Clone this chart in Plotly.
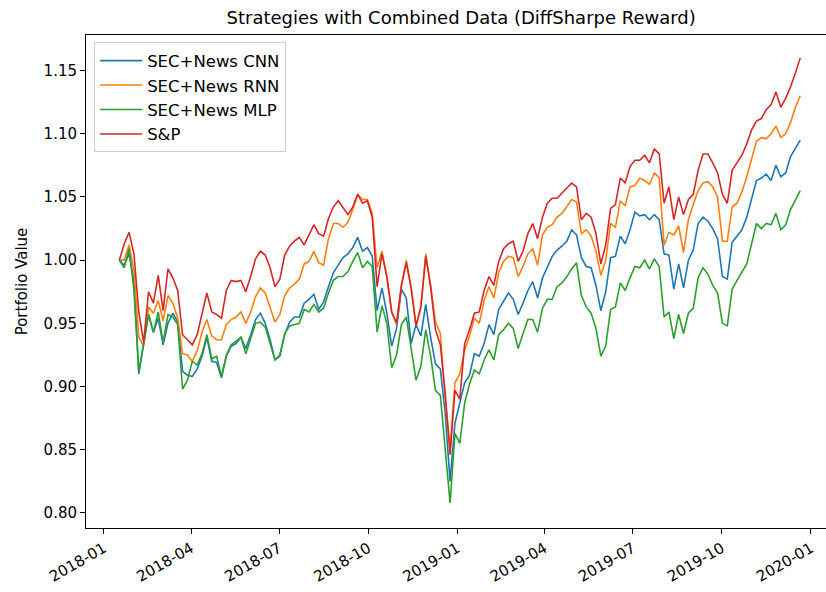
import pandas as pd
import plotly.graph_objects as go

# ---------------- data ----------------
start_date = "2018-01-17"
end_date = "2019-12-21"
n_points = 141
dates = pd.date_range(start_date, end_date, periods=n_points)

series_names = ["SEC+News CNN", "SEC+News RNN", "SEC+News MLP", "S&P"]

cnn = [
    1.000, 0.996, 1.005, 0.984, 0.910, 0.934, 0.957, 0.943, 0.954, 0.933,
    0.950, 0.958, 0.951, 0.912, 0.909, 0.908, 0.914, 0.924, 0.939, 0.920,
    0.919, 0.907, 0.924, 0.932, 0.934, 0.939, 0.930, 0.941, 0.953, 0.958,
    0.950, 0.937, 0.921, 0.925, 0.941, 0.951, 0.955, 0.955, 0.966, 0.969,
    0.973, 0.961, 0.967, 0.979, 0.990, 0.996, 1.002, 1.005, 1.010, 1.018,
    1.007, 1.010, 1.003, 0.960, 0.978, 0.958, 0.932, 0.946, 0.977, 0.970,
    0.934, 0.949, 0.940, 0.965, 0.939, 0.918, 0.914, 0.879, 0.825, 0.871,
    0.887, 0.903, 0.909, 0.926, 0.924, 0.934, 0.949, 0.941, 0.961, 0.967,
    0.974, 0.969, 0.957, 0.966, 0.976, 0.983, 0.970, 0.986, 0.994, 1.003,
    1.008, 1.011, 1.015, 1.024, 1.020, 1.002, 0.995, 0.994, 0.980, 0.960,
    0.975, 1.002, 1.003, 1.019, 1.013, 1.024, 1.038, 1.035, 1.036, 1.032,
    1.036, 1.032, 1.005, 1.004, 0.977, 0.997, 0.978, 1.000, 1.008, 1.029,
    1.034, 1.031, 1.025, 1.017, 0.987, 0.985, 1.014, 1.019, 1.024, 1.034,
    1.048, 1.063, 1.065, 1.068, 1.063, 1.075, 1.066, 1.069, 1.082, 1.088,
    1.095,
]

rnn = [
    1.000, 1.000, 1.012, 0.992, 0.939, 0.932, 0.963, 0.958, 0.968, 0.952,
    0.972, 0.966, 0.954, 0.926, 0.925, 0.920, 0.928, 0.943, 0.953, 0.940,
    0.937, 0.937, 0.949, 0.953, 0.955, 0.959, 0.950, 0.959, 0.971, 0.978,
    0.974, 0.963, 0.951, 0.957, 0.972, 0.978, 0.981, 0.985, 0.997, 0.999,
    1.007, 0.998, 0.996, 1.017, 1.029, 1.029, 1.026, 1.030, 1.040, 1.052,
    1.048, 1.048, 1.037, 0.994, 1.007, 0.987, 0.959, 0.950, 0.980, 1.000,
    0.978, 0.948, 0.963, 1.005, 0.980, 0.951, 0.942, 0.889, 0.852, 0.903,
    0.910, 0.929, 0.940, 0.954, 0.950, 0.968, 0.979, 0.970, 0.990, 0.999,
    1.003, 1.002, 0.987, 0.995, 1.005, 1.009, 0.996, 1.020, 1.026, 1.028,
    1.034, 1.037, 1.043, 1.048, 1.046, 1.021, 1.024, 1.019, 1.007, 0.988,
    1.000, 1.029, 1.026, 1.047, 1.043, 1.058, 1.059, 1.065, 1.063, 1.060,
    1.069, 1.065, 1.012, 1.022, 1.020, 1.027, 1.006, 1.032, 1.044, 1.055,
    1.061, 1.062, 1.058, 1.050, 1.015, 1.015, 1.042, 1.045, 1.054, 1.066,
    1.080, 1.094, 1.097, 1.096, 1.100, 1.106, 1.097, 1.100, 1.109, 1.121,
    1.130,
]

mlp = [
    1.000, 0.994, 1.009, 0.976, 0.912, 0.935, 0.957, 0.943, 0.959, 0.935,
    0.957, 0.955, 0.949, 0.898, 0.905, 0.920, 0.917, 0.926, 0.941, 0.922,
    0.924, 0.908, 0.925, 0.933, 0.936, 0.939, 0.926, 0.938, 0.950, 0.951,
    0.947, 0.934, 0.921, 0.924, 0.942, 0.948, 0.949, 0.950, 0.961, 0.959,
    0.965, 0.959, 0.962, 0.974, 0.984, 0.987, 0.987, 0.991, 0.999, 1.006,
    0.994, 0.999, 0.995, 0.943, 0.964, 0.950, 0.915, 0.925, 0.949, 0.955,
    0.930, 0.905, 0.916, 0.945, 0.924, 0.897, 0.893, 0.847, 0.808, 0.863,
    0.855, 0.887, 0.902, 0.913, 0.910, 0.921, 0.929, 0.921, 0.941, 0.945,
    0.950, 0.946, 0.930, 0.942, 0.953, 0.953, 0.943, 0.962, 0.969, 0.969,
    0.979, 0.982, 0.987, 0.993, 0.998, 0.972, 0.963, 0.958, 0.946, 0.924,
    0.932, 0.961, 0.963, 0.982, 0.976, 0.986, 0.995, 0.994, 1.000, 0.993,
    1.001, 0.995, 0.955, 0.959, 0.938, 0.957, 0.942, 0.958, 0.962, 0.986,
    0.994, 0.989, 0.980, 0.974, 0.950, 0.948, 0.977, 0.984, 0.991, 0.997,
    1.013, 1.029, 1.025, 1.029, 1.028, 1.037, 1.024, 1.028, 1.040, 1.048,
    1.055,
]

sp = [
    1.000, 1.013, 1.022, 1.005, 0.959, 0.935, 0.975, 0.966, 0.988, 0.960,
    0.993, 0.986, 0.976, 0.941, 0.937, 0.933, 0.941, 0.958, 0.974, 0.959,
    0.957, 0.954, 0.976, 0.984, 0.983, 0.984, 0.975, 0.987, 1.001, 1.007,
    1.004, 0.994, 0.979, 0.985, 1.004, 1.011, 1.015, 1.018, 1.012, 1.020,
    1.028, 1.021, 1.019, 1.033, 1.042, 1.047, 1.041, 1.036, 1.042, 1.052,
    1.045, 1.047, 1.034, 0.979, 1.005, 0.987, 0.959, 0.950, 0.980, 0.998,
    0.978, 0.948, 0.963, 1.003, 0.979, 0.945, 0.933, 0.895, 0.846, 0.897,
    0.890, 0.934, 0.945, 0.958, 0.959, 0.976, 0.987, 0.980, 0.999, 1.009,
    1.013, 1.015, 0.999, 1.007, 1.021, 1.029, 1.017, 1.034, 1.045, 1.049,
    1.049, 1.053, 1.057, 1.061, 1.058, 1.032, 1.037, 1.034, 1.021, 0.997,
    1.012, 1.041, 1.044, 1.065, 1.061, 1.074, 1.079, 1.079, 1.083, 1.077,
    1.088, 1.084, 1.045, 1.058, 1.032, 1.050, 1.036, 1.048, 1.052, 1.071,
    1.084, 1.084, 1.077, 1.069, 1.052, 1.045, 1.071, 1.077, 1.083, 1.092,
    1.103, 1.110, 1.112, 1.119, 1.123, 1.133, 1.121, 1.128, 1.137, 1.148,
    1.160,
]

colors = ["#1f77b4", "#ff7f0e", "#2ca02c", "#d62728"]
y_ticks = [0.80, 0.85, 0.90, 0.95, 1.00, 1.05, 1.10, 1.15]
x_ticks = ["2018-01-01", "2018-04-01", "2018-07-01", "2018-10-01", "2019-01-01",
           "2019-04-01", "2019-07-01", "2019-10-01", "2020-01-01"]
x_tick_text = ["2018-01", "2018-04", "2018-07", "2018-10", "2019-01",
               "2019-04", "2019-07", "2019-10", "2020-01"]

# ---------------- figure ----------------
FONT = "DejaVu Sans"
fig = go.Figure()
for i, (name, vals) in enumerate(zip(series_names, [cnn, rnn, mlp, sp])):
    fig.add_trace(go.Scatter(
        x=dates, y=vals, mode="lines", name=name,
        line=dict(color=colors[i], width=1.6),
    ))

fig.update_layout(
    width=826, height=592,
    margin=dict(l=86, r=0, t=35, b=64, autoexpand=False),
    paper_bgcolor="white", plot_bgcolor="white",
    font=dict(family=FONT, size=15, color="#000000"),
    title=dict(text="Strategies with Combined Data (DiffSharpe Reward)",
               x=0.507, xref="paper", xanchor="center",
               y=0.970, yref="container", yanchor="middle",
               font=dict(family=FONT, size=18, color="#000000")),
    showlegend=True,
    legend=dict(x=0.011, y=0.985, xanchor="left", yanchor="top",
                bgcolor="rgba(255,255,255,0.8)", bordercolor="#d0d0d0",
                borderwidth=1, itemwidth=42,
                font=dict(family=FONT, size=16.5, color="#000000")),
)

fig.update_xaxes(
    automargin=False,
    range=["2017-12-13 14:00", "2020-01-16 14:00"],
    tickvals=x_ticks, ticktext=x_tick_text, tickangle=-30,
    ticks="outside", ticklen=5, tickwidth=1, tickcolor="black",
    showline=True, linecolor="black", linewidth=1, mirror=True,
    showgrid=False, zeroline=False,
    tickfont=dict(family=FONT, size=15, color="#000000"),
)
fig.update_yaxes(
    automargin=False,
    range=[0.7881, 1.1781],
    tickvals=y_ticks, tickformat=".2f",
    ticks="outside", ticklen=5, tickwidth=1, tickcolor="black",
    showline=True, linecolor="black", linewidth=1, mirror=False,
    showgrid=False, zeroline=False,
    title=dict(text="Portfolio Value", standoff=12,
               font=dict(family=FONT, size=15, color="#000000")),
    tickfont=dict(family=FONT, size=15, color="#000000"),
)

fig.write_html(
    "out.html",
    config={"displayModeBar": False},
    post_script="document.body.style.margin='0px';document.body.style.overflow='hidden';",
)
